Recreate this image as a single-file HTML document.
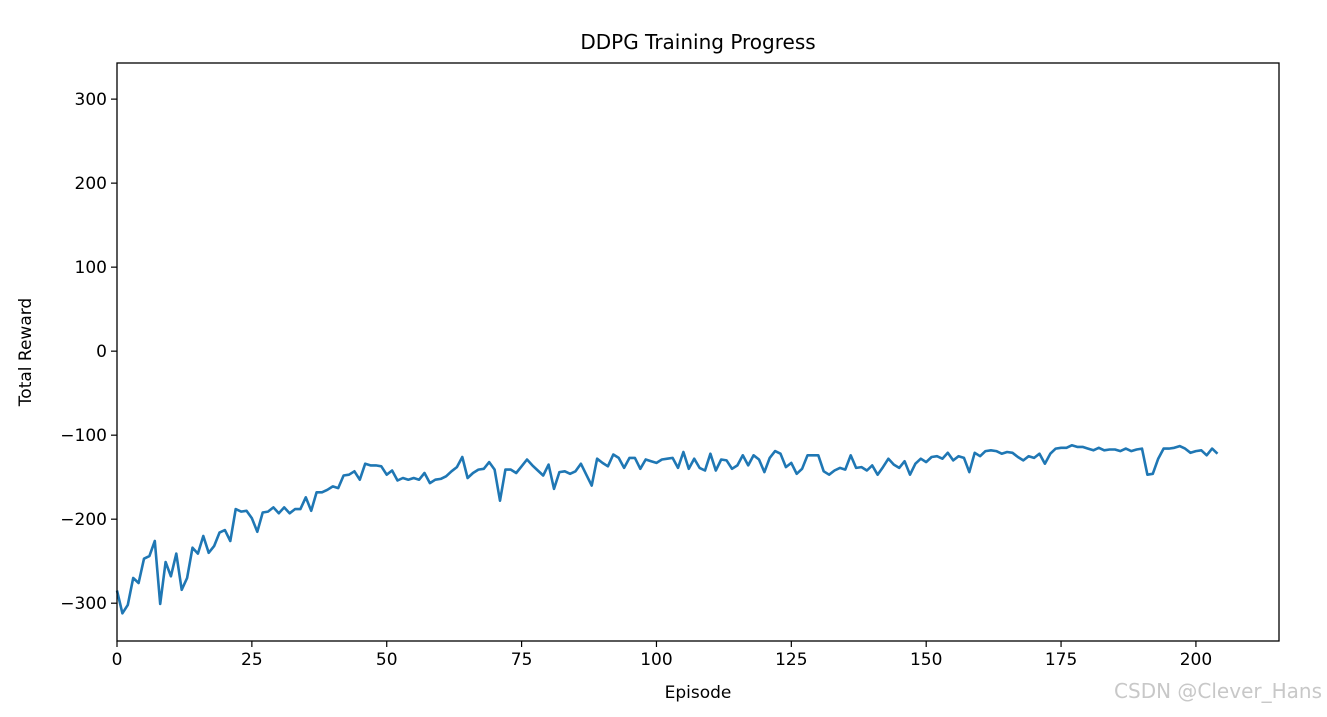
<!DOCTYPE html>
<html><head><meta charset="utf-8"><style>
body{margin:0;background:#fff;width:1327px;height:712px;overflow:hidden;font-family:"Liberation Sans","DejaVu Sans",sans-serif}
svg text{font-family:"DejaVu Sans","Liberation Sans",sans-serif;fill:#000}
</style></head><body>
<svg id="chart" width="1327" height="712" xmlns="http://www.w3.org/2000/svg">
<rect x="0" y="0" width="1327" height="712" fill="#fff"/>
<text x="698" y="49" text-anchor="middle" font-size="20">DDPG Training Progress</text>
<g id="xticks"></g>
<g id="yticks"></g>
<path id="line" fill="none" stroke="#1f77b4" stroke-width="2.6" stroke-linejoin="round"/>
<rect x="117" y="63" width="1162" height="578" fill="none" stroke="#000" stroke-width="1.3"/>
<text x="698" y="698" text-anchor="middle" font-size="17">Episode</text>
<text x="0" y="0" transform="translate(31,352) rotate(-90)" text-anchor="middle" font-size="17">Total Reward</text>
<text x="1322" y="698" text-anchor="end" font-size="20" style="fill:#c8c8c8">CSDN @Clever_Hans</text>
</svg>
<script>
const rewards=[-285,-312,-302,-270,-276,-247,-244,-226,-301,-251,-268,-241,-284,-270,-234,-241,-220,-240,-232,-216,-213,-226,-188,-191,-190,-199,-215,-192,-191,-186,-193,-186,-193,-188,-188,-174,-190,-168,-168,-165,-161,-163,-148,-147,-143,-153,-134,-136,-136,-137,-147,-142,-154,-151,-153,-151,-153,-145,-157,-153,-152,-149,-143,-138,-126,-151,-145,-141,-140,-132,-141,-178,-141,-141,-145,-137,-129,-136,-142,-148,-135,-164,-144,-143,-146,-143,-134,-147,-160,-128,-133,-137,-123,-127,-139,-127,-127,-140,-129,-131,-133,-129,-128,-127,-139,-120,-140,-128,-139,-142,-122,-142,-129,-130,-140,-136,-124,-136,-124,-129,-144,-127,-119,-122,-138,-133,-146,-140,-124,-124,-124,-143,-147,-142,-139,-141,-124,-139,-138,-142,-136,-147,-138,-128,-135,-139,-131,-147,-134,-128,-132,-126,-125,-128,-121,-130,-125,-127,-144,-121,-125,-119,-118,-119,-122,-120,-121,-126,-130,-125,-127,-122,-134,-122,-116,-115,-115,-112,-114,-114,-116,-118,-115,-118,-117,-117,-119,-116,-119,-117,-116,-147,-146,-128,-116,-116,-115,-113,-116,-121,-119,-118,-124,-116,-122];
const xTickLabels=[0,25,50,75,100,125,150,175,200];
const yTickLabels=[-300,-200,-100,0,100,200,300];
const X0=117,X1=1279,xMin=0,xMax=215.4;
const Y0=641,Y1=63,yMin=-345,yMax=343;
function xs(v){return X0+(v-xMin)/(xMax-xMin)*(X1-X0);}
function ys(v){return Y0-(v-yMin)/(yMax-yMin)*(Y0-Y1);}
const NS="http://www.w3.org/2000/svg";
const xg=document.getElementById('xticks'),yg=document.getElementById('yticks');
xTickLabels.forEach(t=>{
  const l=document.createElementNS(NS,'line');
  
  
  l.setAttribute('x1',xs(t));l.setAttribute('x2',xs(t));l.setAttribute('y1',Y0);l.setAttribute('y2',Y0+6);l.setAttribute('stroke','#000');l.setAttribute('stroke-width','1.2');
  xg.appendChild(l);
  const tx=document.createElementNS(NS,'text');
  
  
  tx.setAttribute('x',xs(t));tx.setAttribute('y',Y0+24);tx.setAttribute('text-anchor','middle');tx.setAttribute('font-size','17');
  tx.textContent=t;xg.appendChild(tx);
});
yTickLabels.forEach(t=>{
  const l=document.createElementNS(NS,'line');
  
  
  l.setAttribute('x1',X0-6);l.setAttribute('x2',X0);l.setAttribute('y1',ys(t));l.setAttribute('y2',ys(t));l.setAttribute('stroke','#000');l.setAttribute('stroke-width','1.2');
  yg.appendChild(l);
  const tx=document.createElementNS(NS,'text');
  
  
  tx.setAttribute('x',X0-10);tx.setAttribute('y',ys(t)+6);tx.setAttribute('text-anchor','end');tx.setAttribute('font-size','17');
  tx.textContent=t<0?'\u2212'+Math.abs(t):t;yg.appendChild(tx);
});
document.getElementById('line').setAttribute('d',rewards.map((v,i)=>(i?'L':'M')+xs(i).toFixed(1)+' '+ys(v).toFixed(1)).join(' '));
</script>
</body></html>
